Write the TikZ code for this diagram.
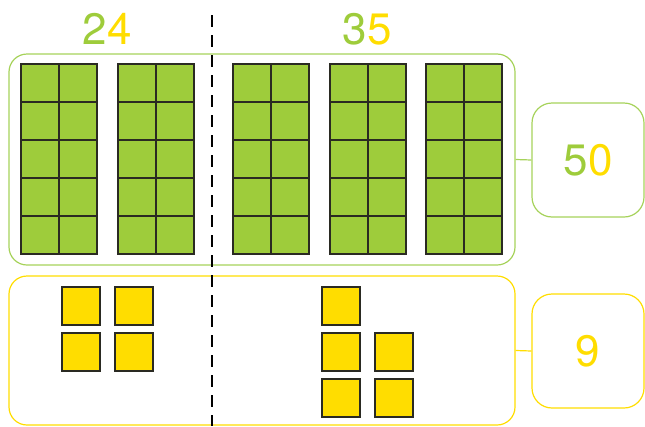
\documentclass[tikz,border=0pt]{standalone}
\usepackage{fontspec}
\setmainfont{TeX Gyre Heros}
\usetikzlibrary{positioning}

\definecolor{rodgreen}{HTML}{9ECC3B}
\definecolor{boxgreen}{HTML}{A6D25A}
\definecolor{unityellow}{HTML}{FFDD00}
\definecolor{edgegray}{HTML}{2A2A22}

\begin{document}
\begin{tikzpicture}[
  x=1pt, y=-1pt,
  groupbox/.style={draw, line width=1.2pt, rounded corners=18pt, minimum width=506pt, inner sep=0pt},
  sumbox/.style={draw, line width=1.2pt, rounded corners=20pt, minimum width=112pt, minimum height=114pt, inner sep=0pt, font=\fontsize{44}{44}\selectfont},
  numlabel/.style={font=\fontsize{44}{44}\selectfont, inner sep=0pt},
  tencell/.style={fill=rodgreen, draw=edgegray, line width=1.3pt},
  unitcell/.style={fill=unityellow, draw=edgegray, line width=1.4pt},
  link/.style={line width=1.2pt},
]
  \useasboundingbox (0,0) rectangle (645,426);

  % Group boxes
  \node[groupbox, draw=boxgreen, minimum height=211pt] (tens) at (262,159.5) {};
  \node[groupbox, draw=unityellow, minimum height=149pt] (ones) at (262,350.5) {};

  % Sum boxes
  \node[sumbox, draw=boxgreen] (tenssum) at (588,160) {\textcolor{rodgreen}{5}\textcolor{unityellow}{0}};
  \node[sumbox, draw=unityellow] (onessum) at (588,351) {\textcolor{unityellow}{9}};
  \draw[link, boxgreen] (tens.east) -- (tenssum.west);
  \draw[link, unityellow] (ones.east) -- (onessum.west);

  % Ten rods
  \foreach \x in {21,118,233,330,426} {
    \foreach \c in {0,1} {
      \foreach \r in {0,...,4} {
        \draw[tencell] (\x+38*\c,64+38*\r) rectangle ++(38,38);
      }
    }
  }

  % Unit cubes
  \foreach \x/\y in {62/287, 115/287, 62/333, 115/333,
                     322/287, 322/333, 375/333, 322/379, 375/379} {
    \draw[unitcell] (\x,\y) rectangle ++(38,38);
  }

  % Split line
  \coordinate (splittop) at (212,15);
  \coordinate (splitbot) at (212,426);
  \draw[line width=1.3pt, dash pattern=on 12pt off 8pt] (splittop) -- (splitbot);

  % Numbers
  \node[numlabel] (first) at (107,29) {\textcolor{rodgreen}{2}\textcolor{unityellow}{4}};
  \node[numlabel] (second) at (367,29) {\textcolor{rodgreen}{3}\textcolor{unityellow}{5}};
\end{tikzpicture}
\end{document}
